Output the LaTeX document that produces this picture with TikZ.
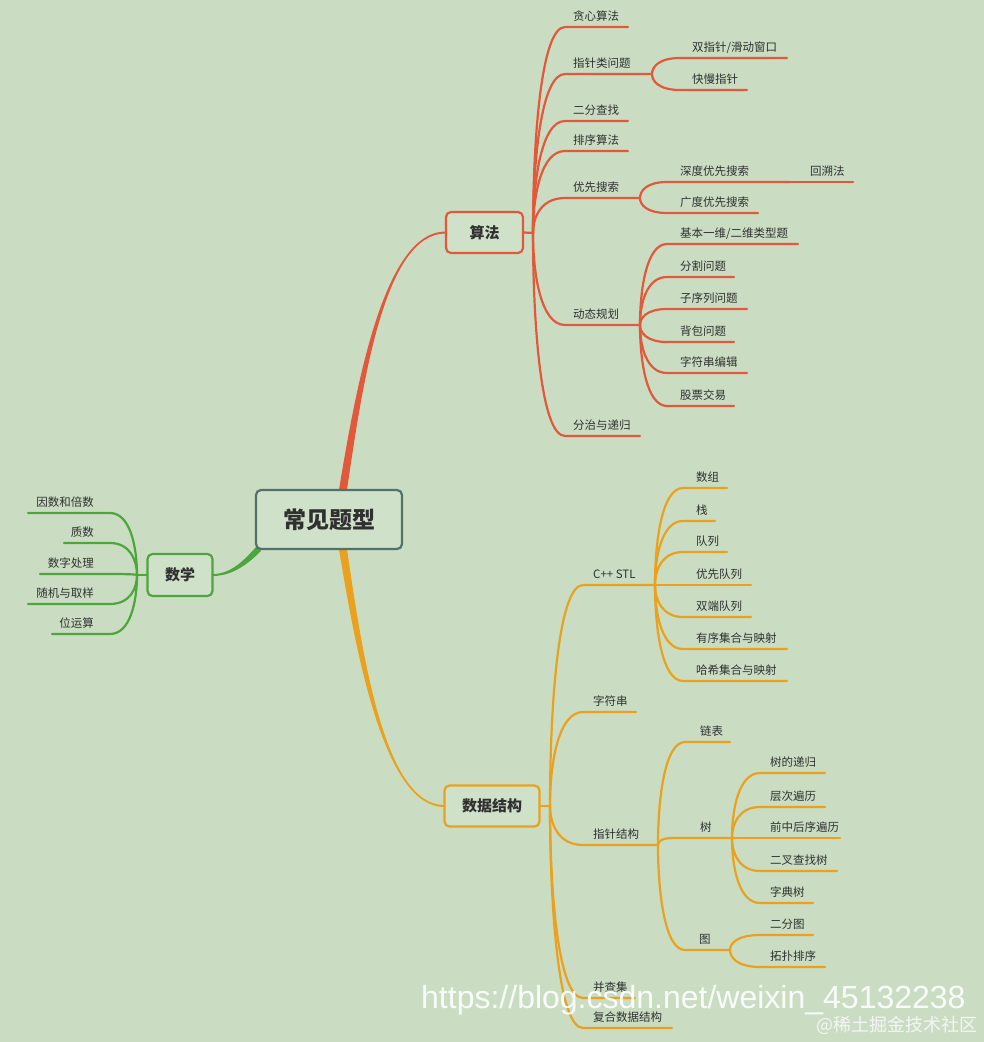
\documentclass[tikz,border=0pt]{standalone}
\usepackage{fontspec}
\setmainfont{Noto Sans CJK SC}
\newfontfamily\wmfont{Liberation Sans}
\usetikzlibrary{calc}
\definecolor{bg}{HTML}{CADDC3}
\definecolor{boxfill}{HTML}{CFE1C8}
\definecolor{cred}{HTML}{E2583A}
\definecolor{corange}{HTML}{E9A11E}
\definecolor{cgreen}{HTML}{4DA63C}
\definecolor{cgray}{HTML}{53706A}
\definecolor{txt}{HTML}{303030}
\tikzset{
  lbl/.style={inner sep=0pt, font=\fontsize{11.5}{12}\selectfont, text=txt},
  br/.style={line width=2.2pt},
  box/.style={rounded corners=5pt, line width=2.2pt, fill=boxfill, text=txt,
              font=\fontsize{15}{16}\selectfont\bfseries},
}
\newcommand\leafR[7]{%
  \coordinate (#1s) at (#3,#4);
  \coordinate (#1e) at (#5,#4);
  \draw[br] (#2) .. controls ($(#2)!0.45!(#2 |- #1s)$) and ($(#2 |- #1s)!0.25!(#1s)$) .. (#1s) -- (#1e);
  \node[lbl,anchor=base west] (#1) at (#6,#4-7) {#7};
}
\newcommand\leafL[7]{%
  \coordinate (#1s) at (#3,#4);
  \coordinate (#1e) at (#5,#4);
  \draw[br] (#2) .. controls ($(#2)!0.45!(#2 |- #1s)$) and ($(#2 |- #1s)!0.25!(#1s)$) .. (#1s) -- (#1e);
  \node[lbl,anchor=base east] (#1) at (#6,#4-7) {#7};
}
\begin{document}
\begin{tikzpicture}[x=1pt,y=-1pt]
\useasboundingbox (0,0) rectangle (984,1042);
\fill[bg] (0,0) rectangle (984,1042);

% box positions (named nodes, invisible first pass)
\path (329,519.5) node[minimum width=146pt, minimum height=59pt] (center) {};
\path (484.5,232.5) node[minimum width=77pt, minimum height=41pt] (suanfa) {};
\path (492,806) node[minimum width=95pt, minimum height=41pt] (shuju) {};
\path (180,575) node[minimum width=65pt, minimum height=42pt] (shuxue) {};

% tapered root connectors
\fill[cred] ($(center.north)+(10,0)$) .. controls (357,380) and (385,231) .. ($(suanfa.west)+(0,-1)$)
  -- ($(suanfa.west)+(0,1)$) .. controls (385,233) and (363,380) .. ($(center.north)+(18,0)$) -- cycle;
\fill[corange] ($(center.south)+(10,0)$) .. controls (357,659) and (385,807) .. ($(shuju.west)+(0,1)$)
  -- ($(shuju.west)+(0,-1)$) .. controls (385,805) and (363,659) .. ($(center.south)+(18,0)$) -- cycle;
\fill[cgreen] (257,546) .. controls (245,559) and (232,574) .. ($(shuxue.east)+(0,-1)$)
  -- ($(shuxue.east)+(0,1)$) .. controls (233,576) and (249,563) .. (261,551) -- cycle;

% boxes drawn on top of the connectors
\node[box, draw=cgray, minimum width=146pt, minimum height=59pt,
      font=\fontsize{23}{24}\selectfont\bfseries] (centerbox) at (center) {常见题型};
\node[box, draw=cred, minimum width=77pt, minimum height=41pt] (suanfabox) at (suanfa) {算法};
\node[box, draw=corange, minimum width=95pt, minimum height=41pt] (shujubox) at (shuju) {数据结构};
\node[box, draw=cgreen, minimum width=65pt, minimum height=42pt] (shuxuebox) at (shuxue) {数学};

% ---------- 算法 ----------
\begin{scope}[br/.style={line width=2.2pt, draw=cred, line cap=round}]
\coordinate (J1) at (533,233);
\draw[br] (suanfabox.east) -- (J1);
\leafR{a1}{J1}{565}{27}{628}{573}{贪心算法}
\leafR{a2}{J1}{565}{74}{652}{573}{指针类问题}
\leafR{a21}{a2e}{680}{58}{787}{692}{双指针/滑动窗口}
\leafR{a22}{a2e}{680}{90}{747}{692}{快慢指针}
\leafR{a3}{J1}{565}{121}{628}{573}{二分查找}
\leafR{a4}{J1}{565}{151}{628}{573}{排序算法}
\leafR{a5}{J1}{565}{198}{640}{573}{优先搜索}
\leafR{a51}{a5e}{667}{182}{790}{680}{深度优先搜索}
\leafR{a511}{a51e}{790}{182}{853}{810}{回溯法}
\leafR{a52}{a5e}{667}{213}{758}{680}{广度优先搜索}
\leafR{a6}{J1}{565}{325}{640}{573}{动态规划}
\leafR{a61}{a6e}{667}{244}{798}{680}{基本一维/二维类型题}
\leafR{a62}{a6e}{667}{277}{734}{680}{分割问题}
\leafR{a63}{a6e}{667}{309}{747}{680}{子序列问题}
\leafR{a64}{a6e}{667}{342}{734}{680}{背包问题}
\leafR{a65}{a6e}{667}{373}{747}{680}{字符串编辑}
\leafR{a66}{a6e}{667}{406}{734}{680}{股票交易}
\leafR{a7}{J1}{565}{436}{640}{573}{分治与递归}
\end{scope}

% ---------- 数据结构 ----------
\begin{scope}[br/.style={line width=2.2pt, draw=corange, line cap=round}]
\coordinate (J2) at (550,806);
\draw[br] (shujubox.east) -- (J2);
\leafR{d1}{J2}{583}{585}{655}{593}{C++ STL}
\leafR{d11}{d1e}{683}{488}{727}{696}{数组}
\leafR{d12}{d1e}{683}{521}{715}{696}{栈}
\leafR{d13}{d1e}{683}{552}{727}{696}{队列}
\leafR{d14}{d1e}{683}{585}{751}{696}{优先队列}
\leafR{d15}{d1e}{683}{617}{751}{696}{双端队列}
\leafR{d16}{d1e}{683}{649}{787}{696}{有序集合与映射}
\leafR{d17}{d1e}{683}{681}{787}{696}{哈希集合与映射}
\leafR{d2}{J2}{583}{712}{636}{593}{字符串}
\leafR{d3}{J2}{583}{845}{658}{593}{指针结构}
\leafR{d31}{d3e}{685}{742}{730}{700}{链表}
\leafR{d32}{d3e}{672}{838}{732}{700}{树}
\leafR{d321}{d32e}{760}{773}{825}{770}{树的递归}
\leafR{d322}{d32e}{760}{807}{825}{770}{层次遍历}
\leafR{d323}{d32e}{760}{838}{840}{770}{前中后序遍历}
\leafR{d324}{d32e}{760}{871}{837}{770}{二叉查找树}
\leafR{d325}{d32e}{760}{903}{813}{770}{字典树}
\leafR{d33}{d3e}{685}{950}{730}{699}{图}
\leafR{d331}{d33e}{760}{935}{813}{770}{二分图}
\leafR{d332}{d33e}{760}{967}{825}{770}{拓扑排序}
\leafR{d4}{J2}{583}{998}{635}{593}{并查集}
\leafR{d5}{J2}{583}{1028}{672}{593}{复合数据结构}
\end{scope}

% ---------- 数学 ----------
\begin{scope}[br/.style={line width=2.2pt, draw=cgreen, line cap=round}]
\coordinate (J3) at (137,575);
\draw[br] (shuxuebox.west) -- (J3);
\leafL{m1}{J3}{110}{513}{28}{94}{因数和倍数}
\leafL{m2}{J3}{110}{543}{64}{94}{质数}
\leafL{m3}{J3}{110}{574}{40}{94}{数字处理}
\leafL{m4}{J3}{110}{604}{28}{94}{随机与取样}
\leafL{m5}{J3}{110}{634}{52}{94}{位运算}
\end{scope}

% ---------- watermark ----------
\node[anchor=west, inner sep=0pt, text=white, text opacity=0.9,
      font=\wmfont\fontsize{32}{34}\selectfont] (wm1) at (421,1000) {https://blog.csdn.net/weixin\_45132238};
\node[anchor=east, inner sep=0pt, text=white!92!gray,
      font=\fontsize{18}{19}\selectfont] (wm2) at (978,1025) {@稀土掘金技术社区};
\end{tikzpicture}
\end{document}
